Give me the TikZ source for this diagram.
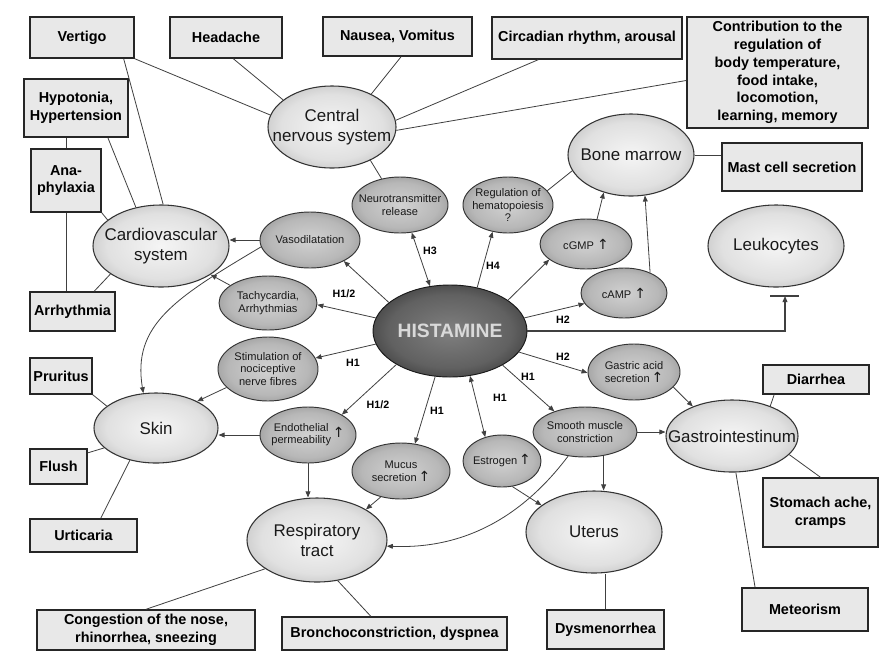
\documentclass[tikz,border=0pt]{standalone}
\usepackage{fontspec}
\setmainfont{Liberation Sans}
\newfontfamily\arrfont{DejaVu Sans}
\usetikzlibrary{shapes.geometric,arrows.meta,calc}
\newcommand\myup{{\arrfont\fontsize{10.5}{10}\selectfont ↑}}
\pgfdeclareradialshading{bigshade}{\pgfpoint{0bp}{0bp}}{color(0bp)=(black!4); color(20bp)=(black!12); color(35bp)=(black!30); color(50bp)=(black!30)}
\pgfdeclareradialshading{smallshade}{\pgfpoint{0bp}{0bp}}{color(0bp)=(black!18); color(20bp)=(black!28); color(35bp)=(black!47); color(50bp)=(black!47)}
\pgfdeclareradialshading{histshade}{\pgfpoint{0bp}{0bp}}{color(0bp)=(black!50); color(20bp)=(black!62); color(35bp)=(black!84); color(50bp)=(black!84)}
\tikzset{
  box/.style 2 args={rectangle, draw=black!85, line width=1.1pt, fill=black!9,
    minimum width=#1*0.75pt, minimum height=#2*0.75pt, inner sep=0pt, align=center,
    font=\bfseries\fontsize{10.8}{13.4}\selectfont, text=black},
  bigell/.style 2 args={ellipse, draw=black!80, line width=0.8pt, shading=bigshade,
    minimum width=#1*1.5pt, minimum height=#2*1.5pt, inner sep=0pt},
  smallell/.style 2 args={ellipse, draw=black!80, line width=0.7pt, shading=smallshade,
    minimum width=#1*1.5pt, minimum height=#2*1.5pt, inner sep=0pt},
  histell/.style 2 args={ellipse, draw=black!90, line width=0.7pt, shading=histshade,
    minimum width=#1*1.5pt, minimum height=#2*1.5pt, inner sep=0pt},
  bigtxt/.style={font=\fontsize{12.7}{15}\selectfont, align=center, text=black!90, inner sep=0pt},
  smalltxt/.style={font=\fontsize{8.3}{9.6}\selectfont, align=center, text=black!90, inner sep=0pt},
  histtxt/.style={font=\bfseries\fontsize{14.5}{16}\selectfont, text=black!15, inner sep=0pt},
  lbl/.style={font=\bfseries\fontsize{8}{9}\selectfont, text=black, inner sep=0pt},
  con/.style={draw=black!75, line width=0.6pt},
  arr/.style={con, -{Triangle[length=4.5pt,width=3.6pt]}},
  darr/.style={con, {Triangle[length=4.5pt,width=3.6pt]}-{Triangle[length=4.5pt,width=3.6pt]}}
}
\begin{document}
\begin{tikzpicture}[x=0.75pt,y=-0.75pt]
\fill[white] (0,0) rectangle (892,654);
\useasboundingbox (0,0) rectangle (892,654);

% boxes
\node[box={104}{41}] (vert) at (82,37.5) {Vertigo};
\node[box={112}{41}] (head) at (226,37.5) {Headache};
\node[box={149}{39}] (naus) at (397.5,36.5) {Nausea, Vomitus};
\node[box={190}{42}] (circ) at (587,38) {Circadian rhythm, arousal};
\node[box={181}{111}] (contrib) at (777.5,72.5) {Contribution to the\\regulation of\\body temperature,\\food intake,\\locomotion,\\learning, memory};
\node[box={104}{58}] (hypo) at (76,108) {Hypotonia,\\Hypertension};
\node[box={70}{63}] (ana) at (66,180.5) {Ana-\\phylaxia};
\node[box={85}{39}] (arrh) at (72.5,311.5) {Arrhythmia};
\node[box={62}{36}] (prur) at (61,376) {Pruritus};
\node[box={57}{35}] (flush) at (58.5,466.5) {Flush};
\node[box={107}{33}] (urtic) at (83.5,535.5) {Urticaria};
\node[box={218}{40}] (cong) at (146,630) {Congestion of the nose,\\rhinorrhea, sneezing};
\node[box={225}{33}] (bronch) at (394.5,633.5) {Bronchoconstriction, dyspnea};
\node[box={117}{39}] (dysm) at (605.5,629.5) {Dysmenorrhea};
\node[box={126}{43}] (meteo) at (805,609.5) {Meteorism};
\node[box={115}{69}] (stom) at (820.5,512.5) {Stomach ache,\\cramps};
\node[box={106}{29}] (diarr) at (816,379.5) {Diarrhea};
\node[box={140}{48}] (mast) at (792,167) {Mast cell secretion};

% big ellipses
\node[bigell={64}{41}, label={[bigtxt]center:{Central\\nervous system}}] (cns) at (332,127) {};
\node[bigell={68}{41}, label={[bigtxt]center:{Cardiovascular\\system}}] (cv) at (161,246) {};
\node[bigell={62}{35}, label={[bigtxt]center:{Skin}}] (skin) at (156,428) {};
\node[bigell={70}{42}, label={[bigtxt]center:{Respiratory\\tract}}] (resp) at (317,540) {};
\node[bigell={68}{41}, label={[bigtxt]center:{Uterus}}] (uter) at (594,532) {};
\node[bigell={66}{36}, label={[bigtxt]center:{Gastrointestinum}}] (gast) at (732,436) {};
\node[bigell={68}{41}, label={[bigtxt]center:{Leukocytes}}] (leuk) at (776,246) {};
\node[bigell={63}{41}, label={[bigtxt]center:{Bone marrow}}] (bone) at (631,155) {};

% small ellipses
\node[smallell={48}{28}, label={[smalltxt]center:{Neurotransmitter\\release}}] (neuro) at (400,205) {};
\node[smallell={45}{28}, label={[smalltxt]center:{Regulation of\\hematopoiesis\\?}}] (hema) at (508,205) {};
\node[smallell={50}{28}, label={[smalltxt]center:{Vasodilatation}}] (vaso) at (310,240) {};
\node[smallell={46}{25}, label={[smalltxt]center:{cGMP \myup}}] (cgmp) at (586,244) {};
\node[smallell={43}{25}, label={[smalltxt]center:{cAMP \myup}}] (camp) at (624,293) {};
\node[smallell={49}{27}, label={[smalltxt]center:{Tachycardia,\\Arrhythmias}}] (tachy) at (268,303) {};
\node[smallell={50}{32}, label={[smalltxt]center:{Stimulation of\\nociceptive\\nerve fibres}}] (stim) at (268,369) {};
\node[smallell={48}{28}, label={[smalltxt]center:{\begin{tabular}{@{}c@{}}Endothelial\\permeability\end{tabular}\,\myup}}] (endo) at (308,435) {};
\node[smallell={49}{28}, label={[smalltxt]center:{Mucus\\secretion\,\myup}}] (mucus) at (401,471) {};
\node[smallell={39}{26}, label={[smalltxt]center:{Estrogen\,\myup}}] (estro) at (502,461) {};
\node[smallell={52}{25}, label={[smalltxt]center:{Smooth muscle\\constriction}}] (smooth) at (585,432) {};
\node[smallell={46}{28}, label={[smalltxt]center:{Gastric acid\\secretion\,\myup}}] (gastric) at (634,372) {};
\node[histell={77}{46}, label={[histtxt]center:{HISTAMINE}}] (hist) at (450,331) {};

% receptor labels
\node[lbl] (l1) at (430,251) {H3};
\node[lbl] (l2) at (493,266) {H4};
\node[lbl] (l3) at (344,294) {H1/2};
\node[lbl] (l4) at (353,363) {H1};
\node[lbl] (l5) at (378,405) {H1/2};
\node[lbl] (l6) at (437,411) {H1};
\node[lbl] (l7) at (500,398) {H1};
\node[lbl] (l8) at (528,377) {H1};
\node[lbl] (l9) at (563,357) {H2};
\node[lbl] (l10) at (563,320) {H2};

% CNS lines
\draw[con] (vert.south east) -- (cns.169);
\draw[con] (head.-71) -- (cns.151);
\draw[con] (naus.-80) -- (cns.40);
\draw[con] (circ.-156) -- (cns.6);
\draw[con] (contrib.185) -- (cns.-3);
\draw[con] (cns.-41) -- (neuro.125);

% cardiovascular
\draw[con] (vert.-27) -- (cv.87);
\draw[con] (hypo.-43) -- (cv.123);
\draw[con] (ana.north) -- (ana.north |- hypo.south);
\draw[con] (ana.south) -- (ana.south |- arrh.north);
\draw[con] (ana.south east) -- (cv.154);
\draw[con] (arrh.43.6) -- (cv.209);
\draw[arr] (vaso.west) -- (vaso.west -| cv.east);
\draw[arr] (vaso.188) .. controls (175,298) and (132,325) .. (skin.110);
\draw[arr] (tachy.155) -- (cv.-30);

% from histamine (left side)
\draw[arr] (hist.155) -- (vaso.-32);
\draw[arr] (hist.170) -- (tachy.-2);
\draw[arr] (hist.190) -- (stim.13.5);
\draw[arr] (stim.204) -- (skin.33);
\draw[arr] (hist.212) -- (endo.31);
\draw[arr] (endo.west) -- (endo.west -| skin.east);
\draw[arr] (endo.south) -- (endo.south |- resp.north);
\draw[arr] (hist.252) -- (mucus.63);
\draw[arr] (mucus.232) -- (resp.32);
\draw[darr] (hist.-66) -- (estro.125);
\draw[arr] (estro.-68) -- (uter.153);

% from histamine (right side)
\draw[arr] (hist.-33) -- (smooth.146);
\draw[arr] (smooth.east) -- (smooth.east -| gast.west);
\draw[arr] (smooth.-52.5) -- (smooth.-52.5 |- uter.north);
\draw[arr] (smooth.235) .. controls (535,500) and (480,550) .. (resp.-5);
\draw[arr] (hist.-17) -- (gastric.181);
\draw[arr] (gastric.-21) -- (gast.143);
\draw[darr] (neuro.-67) -- (hist.114);
\draw[arr] (hist.58) -- (hema.240);
\draw[con] (hema.20) -- (bone.195);
\draw[arr] (hist.28) -- (cgmp.203);
\draw[arr] (cgmp.66) -- (bone.234);
\draw[arr] (camp.38) -- (bone.-71);
\draw[arr] (hist.10.4) -- (camp.195);
\coordinate (inh) at (785,296);
\draw[arr, line width=0.8pt] (hist.east) -| (inh);
\draw[con, line width=0.8pt] ($(inh)+(-15,0)$) -- ($(inh)+(14,0)$);
\draw[con] (bone.east) -- (bone.east -| mast.west);

% organ to symptom lines
\draw[con] (diarr.200) -- (gast.38);
\draw[con] (gast.-18) -- (stom.north);
\draw[con] (gast.-84) -- (meteo.156);
\draw[con] (dysm.north) -- (dysm.north |- uter.south);
\draw[con] (resp.209) -- (cong.north);
\draw[con] (resp.-63) -- (bronch.144);
\draw[con] (prur.south east) -- (skin.156);
\draw[con] (flush.25) -- (skin.201);
\draw[con] (urtic.45) -- (skin.231);
\end{tikzpicture}
\end{document}
